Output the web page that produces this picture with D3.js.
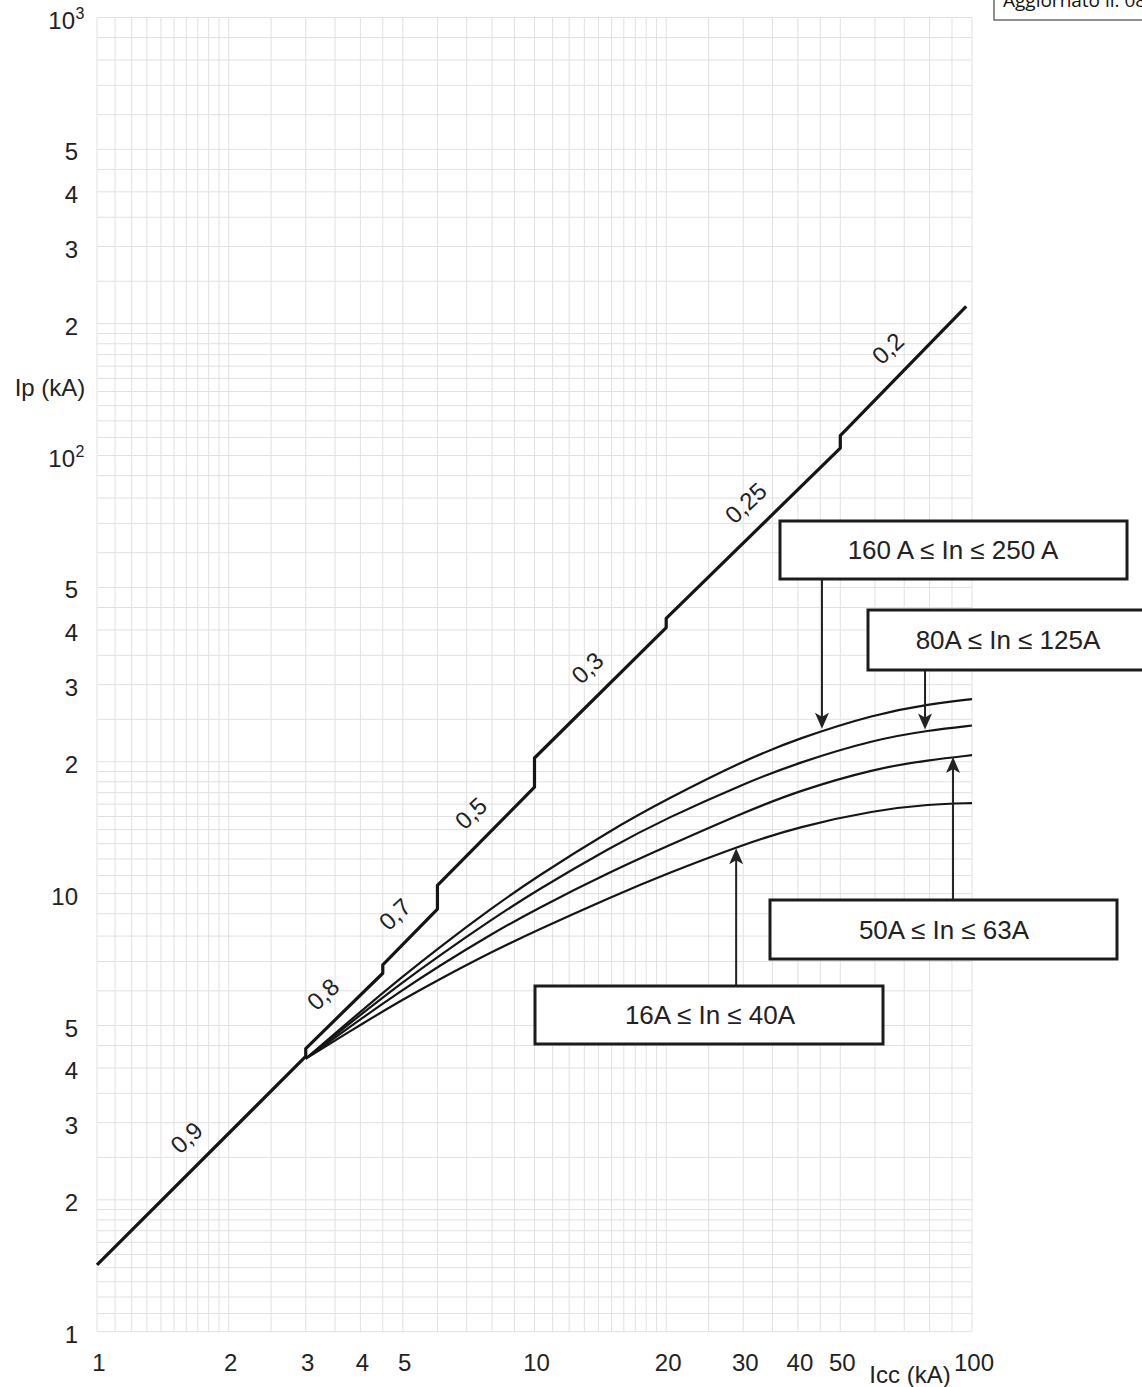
<meta charset='utf-8'>
<script src="https://d3js.org/d3.v7.min.js"></script>
<body style="margin:0;background:#fff"></body>
<script>

// DATA
var decadeSteps = [1, 1.1, 1.2, 1.3, 1.4, 1.5, 1.6, 1.7, 1.8, 1.9, 2, 2.5, 3, 3.5, 4, 4.5, 5, 6, 7, 8, 9];
var xTicks = [1, 2, 3, 4, 5, 10, 20, 30, 40, 50, 100];
var yTicks = [1, 2, 3, 4, 5, 10, 20, 30, 40, 50, 100, 200, 300, 400, 500, 1000];
var yTickLabels = ['1', '2', '3', '4', '5', '10', '2', '3', '4', '5', '10|2', '2', '3', '4', '5', '10|3'];

// peak current line (Icc, Ip) with the steps where cos phi changes
var peakIcc = [1, 3, 3, 4.5, 4.5, 6, 6, 10, 10, 20, 20, 50, 50, 97];
var peakIp = [1.42, 4.25, 4.43, 6.58, 6.88, 9.22, 10.45, 17.5, 20.4, 40.5, 42.5, 104, 111, 219];
var cosLabels = ['0,9', '0,8', '0,7', '0,5', '0,3', '0,25', '0,2'];
var cosIcc = [1.77, 3.63, 5.3, 7.91, 14.6, 33.6, 71];

// limited peak current curves
var curveIcc = [3, 4, 5, 6, 8, 10, 15, 20, 30, 40, 60, 80, 100];
var ip160_250 = [4.2, 5.38, 6.47, 7.48, 9.28, 10.85, 14.0, 16.4, 20.1, 22.6, 25.7, 27.1, 27.8];
var ip80_125 = [4.2, 5.29, 6.28, 7.17, 8.74, 10.1, 12.8, 14.85, 17.8, 19.9, 22.5, 23.6, 24.2];
var ip50_63 = [4.2, 5.17, 6.03, 6.80, 8.10, 9.18, 11.25, 12.8, 15.3, 17.15, 19.3, 20.2, 20.7];
var ip16_40 = [4.2, 5.02, 5.73, 6.34, 7.37, 8.20, 9.84, 11.1, 12.95, 14.2, 15.5, 16.0, 16.1];

var rangeLabels = ['160 A \u2264 In \u2264 250 A', '80A \u2264 In \u2264 125A', '50A \u2264 In \u2264 63A', '16A \u2264 In \u2264 40A'];
var arrowIcc = [45.4, 78.1, 90.5, 28.9];
var arrowIp = [23.8, 23.7, 20.5, 12.7];

// INITIAL SETTINGS
var ww = 1142;
var wh = 1387;
var font = 'Liberation Sans, Arial, sans-serif';
var ink = '#151515';
var pl = 97, pr = 972, pt = 17.5, pb = 1331.7;

var svg = d3.select('body').append('svg')
    .attr('width', ww)
    .attr('height', wh)
    .style('display', 'block');

var x = d3.scaleLog().domain([1, 100]).range([pl, pr]);
var y = d3.scaleLog().domain([1, 1000]).range([pb, pt]);

// GRID
function gridValues(lo, hi) {
    var out = [];
    for (var d = lo; d < hi; d *= 10) {
        decadeSteps.forEach(function (s) { out.push(s * d); });
    }
    out.push(hi);
    return out;
}
var grid = svg.append('g')
    .attr('stroke', '#e1e1e1')
    .attr('stroke-width', 1);
grid.selectAll('.vx')
    .data(gridValues(1, 100))
    .enter().append('line')
    .attr('x1', function (d) { return x(d); })
    .attr('x2', function (d) { return x(d); })
    .attr('y1', pt)
    .attr('y2', pb);
grid.selectAll('.hy')
    .data(gridValues(1, 1000))
    .enter().append('line')
    .attr('y1', function (d) { return y(d); })
    .attr('y2', function (d) { return y(d); })
    .attr('x1', pl)
    .attr('x2', pr);

// TICK LABELS
svg.selectAll('.xt')
    .data(xTicks)
    .enter().append('text')
    .attr('x', function (d) { return x(d) + 2; })
    .attr('y', 1371)
    .attr('text-anchor', 'middle')
    .attr('font-family', font)
    .attr('font-size', 24)
    .attr('fill', '#222')
    .text(function (d) { return d; });

svg.append('text')
    .attr('x', 910)
    .attr('y', 1383)
    .attr('text-anchor', 'middle')
    .attr('font-family', font)
    .attr('font-size', 24)
    .attr('fill', '#222')
    .text('Icc (kA)');

yTicks.forEach(function (v, i) {
    var lab = yTickLabels[i].split('|');
    svg.append('text')
        .attr('y', y(v) + 11)
        .attr('font-family', font)
        .attr('font-size', 24)
        .attr('fill', '#222')
        .attr('text-anchor', 'end')
        .attr('x', lab.length > 1 ? 75 : 78)
        .text(lab[0]);
    if (lab.length > 1) {
        svg.append('text')
            .attr('x', 75.5)
            .attr('y', y(v) + 1.5)
            .attr('font-family', font)
            .attr('font-size', 16)
            .attr('fill', '#222')
            .text(lab[1]);
    }
});

svg.append('text')
    .attr('x', 50)
    .attr('y', 396)
    .attr('text-anchor', 'middle')
    .attr('font-family', font)
    .attr('font-size', 24)
    .attr('fill', '#222')
    .text('Ip (kA)');

// PEAK LINE
var line = d3.line()
    .x(function (d) { return x(d[0]); })
    .y(function (d) { return y(d[1]); });

svg.append('path')
    .datum(d3.zip(peakIcc, peakIp))
    .attr('d', line)
    .attr('fill', 'none')
    .attr('stroke', ink)
    .attr('stroke-width', 3.2)
    .attr('stroke-linejoin', 'round');

function peakAt(icc) {
    for (var i = 0; i < peakIcc.length - 1; i++) {
        if (icc >= peakIcc[i] && icc <= peakIcc[i + 1] && peakIcc[i] != peakIcc[i + 1]) {
            var t = Math.log(icc / peakIcc[i]) / Math.log(peakIcc[i + 1] / peakIcc[i]);
            return Math.exp(Math.log(peakIp[i]) + t * Math.log(peakIp[i + 1] / peakIp[i]));
        }
    }
    return peakIp[peakIp.length - 1];
}

cosLabels.forEach(function (lab, i) {
    var px = x(cosIcc[i]) - 19;
    var py = y(peakAt(cosIcc[i])) - 19;
    svg.append('text')
        .attr('transform', 'translate(' + px + ',' + py + ') rotate(-43)')
        .attr('text-anchor', 'middle')
        .attr('dy', '0.35em')
        .attr('font-family', font)
        .attr('font-size', 24)
        .attr('fill', '#222')
        .text(lab);
});

// LIMITED CURVES
var smooth = d3.line()
    .x(function (d) { return x(d[0]); })
    .y(function (d) { return y(d[1]); })
    .curve(d3.curveBasis);

[ip160_250, ip80_125, ip50_63, ip16_40].forEach(function (s) {
    svg.append('path')
        .datum(d3.zip(curveIcc, s))
        .attr('d', smooth)
        .attr('fill', 'none')
        .attr('stroke', ink)
        .attr('stroke-width', 2.2);
});

// LABEL BOXES + ARROWS
var boxes = [
    {x: 780, y: 521, w: 347, h: 58, tx: 953, up: false},
    {x: 868, y: 610, w: 300, h: 60, tx: 1008, up: false},
    {x: 770, y: 900, w: 347, h: 59, tx: 944, up: true},
    {x: 535, y: 986, w: 348, h: 58, tx: 710, up: true}
];

boxes.forEach(function (b, i) {
    var ax = x(arrowIcc[i]);
    var ay = y(arrowIp[i]);
    var from = b.up ? b.y : b.y + b.h;
    var dir = b.up ? 1 : -1;
    svg.append('line')
        .attr('x1', ax).attr('x2', ax)
        .attr('y1', from).attr('y2', ay + dir * 10)
        .attr('stroke', '#222')
        .attr('stroke-width', 2);
    svg.append('path')
        .attr('d', 'M' + ax + ',' + ay +
            'L' + (ax - 7) + ',' + (ay + dir * 16) +
            'L' + ax + ',' + (ay + dir * 12) +
            'L' + (ax + 7) + ',' + (ay + dir * 16) + 'Z')
        .attr('fill', '#222');
    svg.append('rect')
        .attr('x', b.x).attr('y', b.y)
        .attr('width', b.w).attr('height', b.h)
        .attr('fill', '#fff')
        .attr('stroke', '#1c1c1c')
        .attr('stroke-width', 3);
    svg.append('text')
        .attr('x', b.tx)
        .attr('y', b.y + b.h / 2 + 9)
        .attr('text-anchor', 'middle')
        .attr('font-family', font)
        .attr('font-size', 26)
        .attr('fill', '#222')
        .text(rangeLabels[i]);
});

// STAMP TOP RIGHT
svg.append('rect')
    .attr('x', 994).attr('y', -10)
    .attr('width', 200).attr('height', 30)
    .attr('fill', '#fff')
    .attr('stroke', '#555')
    .attr('stroke-width', 1.3);
svg.append('text')
    .attr('x', 1003)
    .attr('y', 7)
    .attr('font-family', 'Open Sans, Noto Sans, sans-serif')
    .attr('font-size', 19)
    .attr('fill', '#111')
    .text('Aggiornato il: 08/2013');

</script>
